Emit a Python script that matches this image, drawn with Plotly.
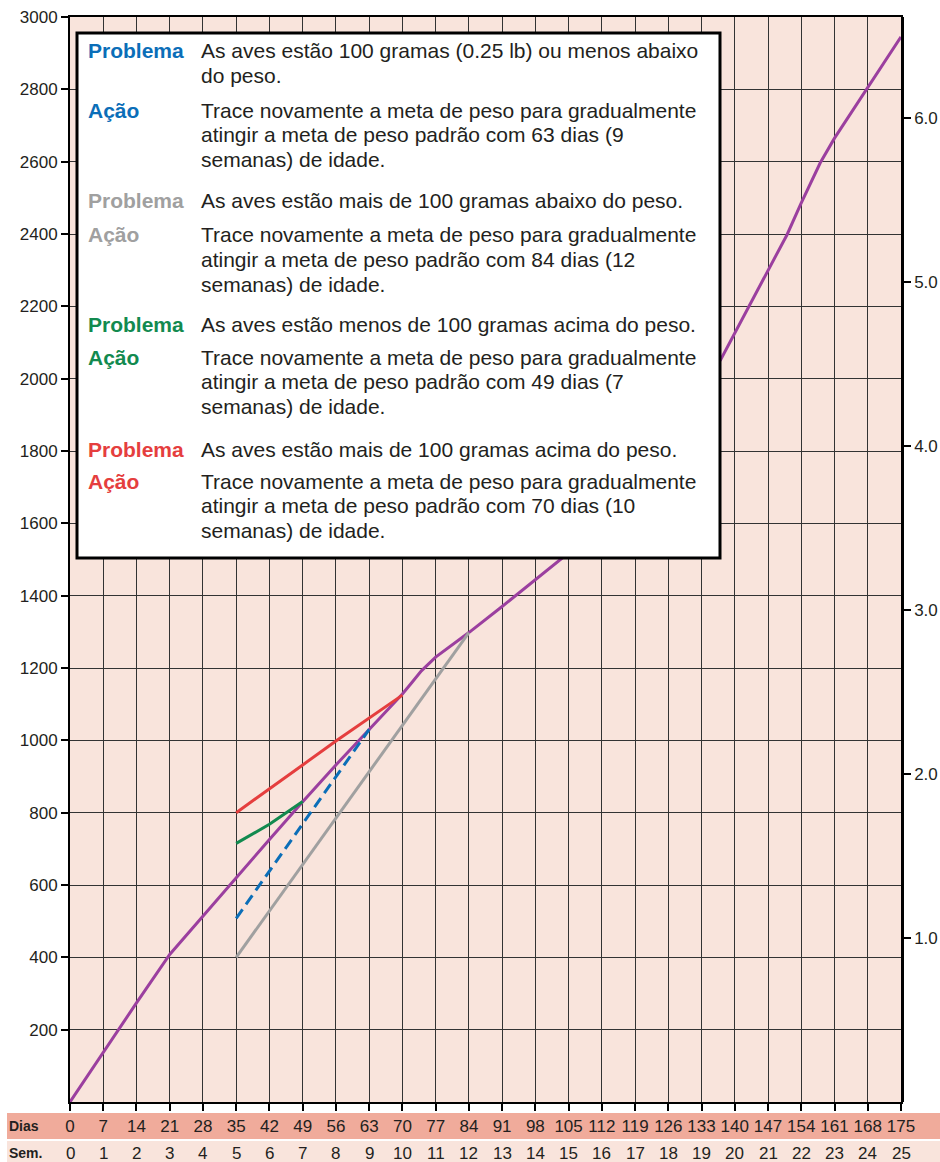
import plotly.graph_objects as go

# ---------------- data ----------------
day_ticks = [0, 7, 14, 21, 28, 35, 42, 49, 56, 63, 70, 77, 84, 91, 98, 105, 112, 119, 126, 133, 140, 147, 154, 161, 168, 175]
day_labels = ["0", "7", "14", "21", "28", "35", "42", "49", "56", "63", "70", "77", "84", "91", "98", "105", "112", "119", "126", "133", "140", "147", "154", "161", "168", "175"]
week_labels = ["0", "1", "2", "3", "4", "5", "6", "7", "8", "9", "10", "11", "12", "13", "14", "15", "16", "17", "18", "19", "20", "21", "22", "23", "24", "25"]

gram_ticks = [200, 400, 600, 800, 1000, 1200, 1400, 1600, 1800, 2000, 2200, 2400, 2600, 2800, 3000]
lb_ticks = [1, 2, 3, 4, 5, 6]
lb_labels = ["1.0", "2.0", "3.0", "4.0", "5.0", "6.0"]
GRAMS_PER_LB = 453.592

# standard target curve (purple)
std_days = [0, 7, 10, 14, 21, 28, 35, 42, 49, 56, 63, 70, 72, 74, 77, 84, 91, 98, 105, 137, 143, 147, 151, 154, 158, 161, 168, 175]
std_g = [0, 137, 199, 274, 408, 515, 622, 726, 830, 932, 1030, 1128, 1160, 1192, 1230, 1298, 1370, 1444, 1518, 2052, 2200, 2301, 2398, 2486, 2597, 2665, 2805, 2945]

# re-drawn targets
blue_days = [35, 63]
blue_g = [508, 1030]
gray_days = [35, 84]
gray_g = [400, 1298]
green_days = [35, 42, 49]
green_g = [715, 768, 831]
red_days = [35, 42, 49, 56, 63, 70]
red_g = [800, 865, 932, 998, 1062, 1125]

# legend box text
blk_labels = ["Problema", "Ação", "Problema", "Ação", "Problema", "Ação", "Problema", "Ação"]
blk_texts = [
    ["As aves estão 100 gramas (0.25 lb) ou menos abaixo", "do peso."],
    ["Trace novamente a meta de peso para gradualmente", "atingir a meta de peso padrão com 63 dias (9", "semanas) de idade."],
    ["As aves estão mais de 100 gramas abaixo do peso."],
    ["Trace novamente a meta de peso para gradualmente", "atingir a meta de peso padrão com 84 dias (12", "semanas) de idade."],
    ["As aves estão menos de 100 gramas acima do peso."],
    ["Trace novamente a meta de peso para gradualmente", "atingir a meta de peso padrão com 49 dias (7", "semanas) de idade."],
    ["As aves estão mais de 100 gramas acima do peso."],
    ["Trace novamente a meta de peso para gradualmente", "atingir a meta de peso padrão com 70 dias (10", "semanas) de idade."],
]

# ---------------- styles ----------------
BLUE = "#0B6EB8"
GRAY = "#A0A0A0"
GREEN = "#128A4F"
RED = "#E53E3E"
PURPLE = "#9B3F9F"
BG = "#F9E4DC"
BAND = "#F0AB9B"
TXT = "#231F20"
FONT = "Liberation Sans, Arial, Helvetica, sans-serif"

W, H = 940, 1162
L, R, T, B = 70, 901, 17, 1102

def px(x):
    return (x - L) / (R - L)

def py(y):
    return (B - y) / (B - T)

blk_colors = [BLUE, BLUE, GRAY, GRAY, GREEN, GREEN, RED, RED]
# centre y (pixels) of the first line of each block
blk_y = [51, 110, 200, 235, 325, 357, 449, 481]
LINE = 24.6
LEG_SIZE = 21

fig = go.Figure()

fig.add_trace(go.Scatter(x=std_days, y=std_g, mode="lines",
                         line=dict(color=PURPLE, width=3), hoverinfo="skip", showlegend=False))
fig.add_trace(go.Scatter(x=gray_days, y=gray_g, mode="lines",
                         line=dict(color=GRAY, width=3), hoverinfo="skip", showlegend=False))
fig.add_trace(go.Scatter(x=blue_days, y=blue_g, mode="lines",
                         line=dict(color=BLUE, width=3, dash="11px,6px"), hoverinfo="skip", showlegend=False))
fig.add_trace(go.Scatter(x=green_days, y=green_g, mode="lines",
                         line=dict(color=GREEN, width=3), hoverinfo="skip", showlegend=False))
fig.add_trace(go.Scatter(x=red_days, y=red_g, mode="lines",
                         line=dict(color=RED, width=3), hoverinfo="skip", showlegend=False))
# invisible trace to anchor the right (lb) axis
fig.add_trace(go.Scatter(x=[0], y=[0], yaxis="y2", mode="markers",
                         marker=dict(opacity=0), hoverinfo="skip", showlegend=False))

shapes = []
# legend box
shapes.append(dict(type="rect", xref="paper", yref="paper",
                   x0=px(77), x1=px(720), y0=py(558), y1=py(33),
                   fillcolor="white", line=dict(color="black", width=3), layer="above"))
# bottom bands
shapes.append(dict(type="rect", xref="paper", yref="paper",
                   x0=px(7), x1=px(940), y0=py(1139), y1=py(1113),
                   fillcolor=BAND, line=dict(width=0), layer="below"))
shapes.append(dict(type="rect", xref="paper", yref="paper",
                   x0=px(7), x1=px(940), y0=py(1162), y1=py(1141),
                   fillcolor=BG, line=dict(width=0), layer="below"))

annotations = []
for lab, col, y0, lines in zip(blk_labels, blk_colors, blk_y, blk_texts):
    annotations.append(dict(xref="paper", yref="paper", x=px(86), y=py(y0),
                            xanchor="left", yanchor="middle", showarrow=False,
                            text="<b>" + lab + "</b>",
                            font=dict(family=FONT, size=LEG_SIZE, color=col)))
    for j, t in enumerate(lines):
        annotations.append(dict(xref="paper", yref="paper", x=px(199), y=py(y0 + j * LINE),
                                xanchor="left", yanchor="middle", showarrow=False,
                                text=t, font=dict(family=FONT, size=LEG_SIZE, color=TXT)))

annotations.append(dict(xref="paper", yref="paper", x=px(7), y=py(1126),
                        xanchor="left", yanchor="middle", showarrow=False,
                        text="<b>Dias</b>", font=dict(family=FONT, size=14, color=TXT)))
annotations.append(dict(xref="paper", yref="paper", x=px(7), y=py(1153),
                        xanchor="left", yanchor="middle", showarrow=False,
                        text="<b>Sem.</b>", font=dict(family=FONT, size=14, color=TXT)))
for d, w in zip(day_ticks, week_labels):
    annotations.append(dict(xref="x", yref="paper", x=d, y=py(1153),
                            xanchor="center", yanchor="middle", showarrow=False,
                            text=w, font=dict(family=FONT, size=17, color=TXT)))

fig.update_layout(
    template="none",
    width=W, height=H, autosize=False,
    margin=dict(l=L, r=W - R, t=T, b=H - B, pad=0),
    paper_bgcolor="white",
    plot_bgcolor=BG,
    font=dict(family=FONT, size=17, color=TXT),
    showlegend=False,
    shapes=shapes,
    annotations=annotations,
    xaxis=dict(range=[0, 175], tickvals=day_ticks, ticktext=day_labels, automargin=False,
               showgrid=True, gridcolor="#333333", gridwidth=1,
               ticks="outside", ticklen=7, tickcolor="black", tickwidth=1.5,
               showline=True, linecolor="black", linewidth=2, mirror=True,
               zeroline=False, ticklabelstandoff=1,
               tickfont=dict(family=FONT, size=17, color=TXT)),
    yaxis=dict(range=[0, 3000], tickvals=gram_ticks, automargin=False,
               showgrid=True, gridcolor="#333333", gridwidth=1,
               ticks="outside", ticklen=7, tickcolor="black", tickwidth=1.5,
               showline=True, linecolor="black", linewidth=2, mirror=True,
               zeroline=False,
               tickfont=dict(family=FONT, size=17, color=TXT)),
    yaxis2=dict(range=[0, 3000 / GRAMS_PER_LB], overlaying="y", side="right", automargin=False,
                tickvals=lb_ticks, ticktext=lb_labels, showgrid=False,
                ticks="outside", ticklen=7, tickcolor="black", tickwidth=1.5,
                showline=True, linecolor="black", linewidth=2.5, zeroline=False,
                tickfont=dict(family=FONT, size=17, color=TXT)),
)

fig.write_html("out.html",
               config={"displayModeBar": False, "responsive": False},
               post_script="document.body.style.margin='0';document.body.style.overflow='hidden';")
